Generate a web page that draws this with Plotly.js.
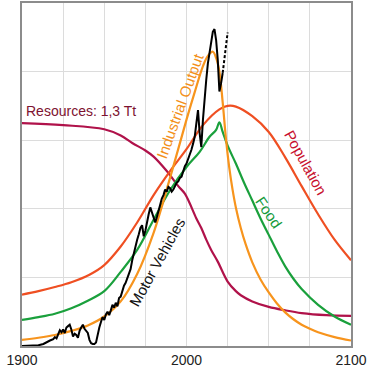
<!DOCTYPE html>
<html>
<head>
<meta charset="utf-8">
<script src="https://cdn.plot.ly/plotly-3.0.1.min.js"></script>
<style>html,body{margin:0;padding:0;background:#fff}#c{width:370px;height:370px}</style>
</head>
<body>
<div id="c"></div>
<script>
// ---- data ----
const popYears = [1900,1910,1920,1930,1941,1950,1960,1970,1980,1990,2000,2010,2020,2025,2030,2040,2050,2060,2070,2080,2090,2100];
const popVals  = [0.75,0.80,0.86,0.93,1.04,1.18,1.45,1.80,2.20,2.55,2.87,3.22,3.45,3.50,3.49,3.35,3.12,2.75,2.33,1.92,1.55,1.25];

const indYears = [1900,1910,1920,1930,1940,1950,1960,1970,1980,1990,2000,2005,2010,2013,2016,2018,2020,2022,2024,2026,2028,2030,2033,2036,2040,2045,2050,2055,2060,2065,2070,2075,2080,2090,2100];
const indVals  = [0.09,0.12,0.16,0.22,0.30,0.43,0.65,1.05,1.65,2.45,3.30,3.70,4.08,4.23,4.29,4.20,4.00,3.55,3.02,2.60,2.28,2.02,1.72,1.48,1.22,0.97,0.78,0.62,0.49,0.39,0.31,0.25,0.20,0.13,0.08];

const foodYears = [1900,1910,1920,1930,1940,1950,1960,1970,1980,1990,2000,2008,2014,2018,2020,2022,2025,2030,2035,2040,2045,2050,2055,2060,2065,2070,2080,2090,2100];
const foodVals  = [0.38,0.42,0.47,0.55,0.66,0.80,1.08,1.40,1.84,2.27,2.61,2.83,3.05,3.15,3.26,3.12,2.92,2.66,2.38,2.12,1.86,1.62,1.38,1.16,0.98,0.83,0.60,0.43,0.31];

const resYears = [1900,1925,1950,1960,1967,1975,1980,1988,1995,1999,2006,2009,2012,2015,2019,2025,2030,2033,2040,2050,2060,2070,2085,2100];
const resVals  = [3.25,3.22,3.16,3.07,2.96,2.85,2.76,2.55,2.33,2.22,1.86,1.72,1.55,1.40,1.23,0.94,0.80,0.74,0.65,0.57,0.52,0.48,0.45,0.44];

const carYears = [1900,1905,1910,1913,1915,1917,1919,1920,1921,1922,1923,1924,1925,1926,1927,1928,1929,1930,1931,1932,1933,1934,1935,1936,1937,1938,1939,1940,1941,1942,1943,1944,1945,1946,1947,1948,1949,1950,1951,1952,1953,1954,1955,1956,1957,1958,1959,1960,1961,1962,1963,1964,1965,1966,1967,1968,1969,1970,1971,1972,1973,1974,1975,1976,1977,1978,1979,1980,1981,1982,1983,1984,1985,1986,1987,1988,1989,1990,1991,1992,1993,1994,1995,1996,1997,1998,1999,2000,2001,2002,2003,2004,2005,2006,2007,2008,2009,2010,2011,2012,2013,2014,2015,2016,2017,2018,2019,2020,2021,2022];
const carVals  = [0.00,0.00,0.01,0.03,0.06,0.08,0.10,0.13,0.11,0.18,0.23,0.20,0.24,0.19,0.27,0.29,0.31,0.24,0.14,0.18,0.16,0.12,0.22,0.27,0.31,0.25,0.22,0.19,0.09,0.04,0.03,0.03,0.05,0.18,0.27,0.35,0.42,0.38,0.46,0.50,0.45,0.52,0.60,0.56,0.63,0.58,0.70,0.72,0.80,0.88,0.92,0.98,1.06,1.12,1.25,1.36,1.45,1.55,1.63,1.72,1.76,1.60,1.68,1.82,1.92,2.02,1.95,1.85,1.80,1.88,1.98,2.05,2.15,2.20,2.28,2.25,2.32,2.30,2.25,2.28,2.34,2.38,2.40,2.45,2.47,2.55,2.62,2.66,2.72,2.80,2.86,2.95,3.05,3.25,3.44,3.10,2.90,3.30,3.63,3.88,4.12,4.27,4.46,4.58,4.62,4.46,4.17,3.71,3.83,3.98];
const carProjYears = [2022,2023,2024,2025];
const carProjVals  = [3.98,4.17,4.41,4.57];

const xTicks = [1900,1925,1950,1975,2000,2025,2050,2075,2100];
const xTickText = ['1900','','','','2000','','','','2100'];

const labels = [
  {text:'Resources: 1,3 Tt', x:1901.2, y:3.42, angle:0, color:'#7d1230', xanchor:'left', size:14},
  {text:'Industrial Output', x:1996, y:3.51, angle:-70, color:'#f39019', xanchor:'center', size:15},
  {text:'Population', x:2072.3, y:2.67, angle:61, color:'#c8102e', xanchor:'center', size:15},
  {text:'Food', x:2050.2, y:1.95, angle:56, color:'#159a3a', xanchor:'center', size:15},
  {text:'Motor Vehicles', x:1981.9, y:1.22, angle:-61, color:'#111111', xanchor:'center', size:15}
];

// ---- chart ----
const line = (x,y,color,shape) => ({
  x:x, y:y, type:'scatter', mode:'lines', hoverinfo:'skip', showlegend:false,
  line:{color:color, width:2.2, shape:shape, smoothing:1}
});

const traces = [
  line(resYears, resVals, '#b0124a', 'spline'),
  line(popYears, popVals, '#ef4f22', 'spline'),
  line(foodYears, foodVals, '#1aa03c', 'spline'),
  line(indYears, indVals, '#f7941d', 'spline'),
  line(carYears, carVals, '#000000', 'linear'),
  line(carProjYears, carProjVals, '#000000', 'linear')
];
traces[5].line.dash = '3px,2px';
traces[4].line.width = 2;
traces[5].line.width = 2;

const layout = {
  width:370, height:370,
  margin:{l:22, r:19, t:3, b:24, pad:0},
  paper_bgcolor:'#ffffff', plot_bgcolor:'#ffffff',
  font:{family:'"Liberation Sans", Arial, sans-serif', color:'#222'},
  xaxis:{range:[1900,2100], tickvals:xTicks, ticktext:xTickText, showgrid:true, gridcolor:'#dcdcdc', gridwidth:1,
         zeroline:false, showline:true, mirror:true, linecolor:'#8c8c8c', linewidth:2, ticks:'', tickfont:{size:14, color:'#222'}, fixedrange:true},
  yaxis:{range:[0,5], dtick:1, showgrid:true, gridcolor:'#dcdcdc', gridwidth:1, showticklabels:false,
         zeroline:false, showline:true, mirror:true, linecolor:'#8c8c8c', linewidth:2, ticks:'', fixedrange:true},
  annotations: labels.map(l => ({
    text:l.text, x:l.x, y:l.y, xref:'x', yref:'y', showarrow:false, textangle:l.angle,
    xanchor:l.xanchor, yanchor:'middle', font:{size:l.size, color:l.color, family:'"Liberation Sans", Arial, sans-serif'}
  }))
};

Plotly.newPlot('c', traces, layout, {staticPlot:true, displayModeBar:false});
</script>
</body>
</html>
